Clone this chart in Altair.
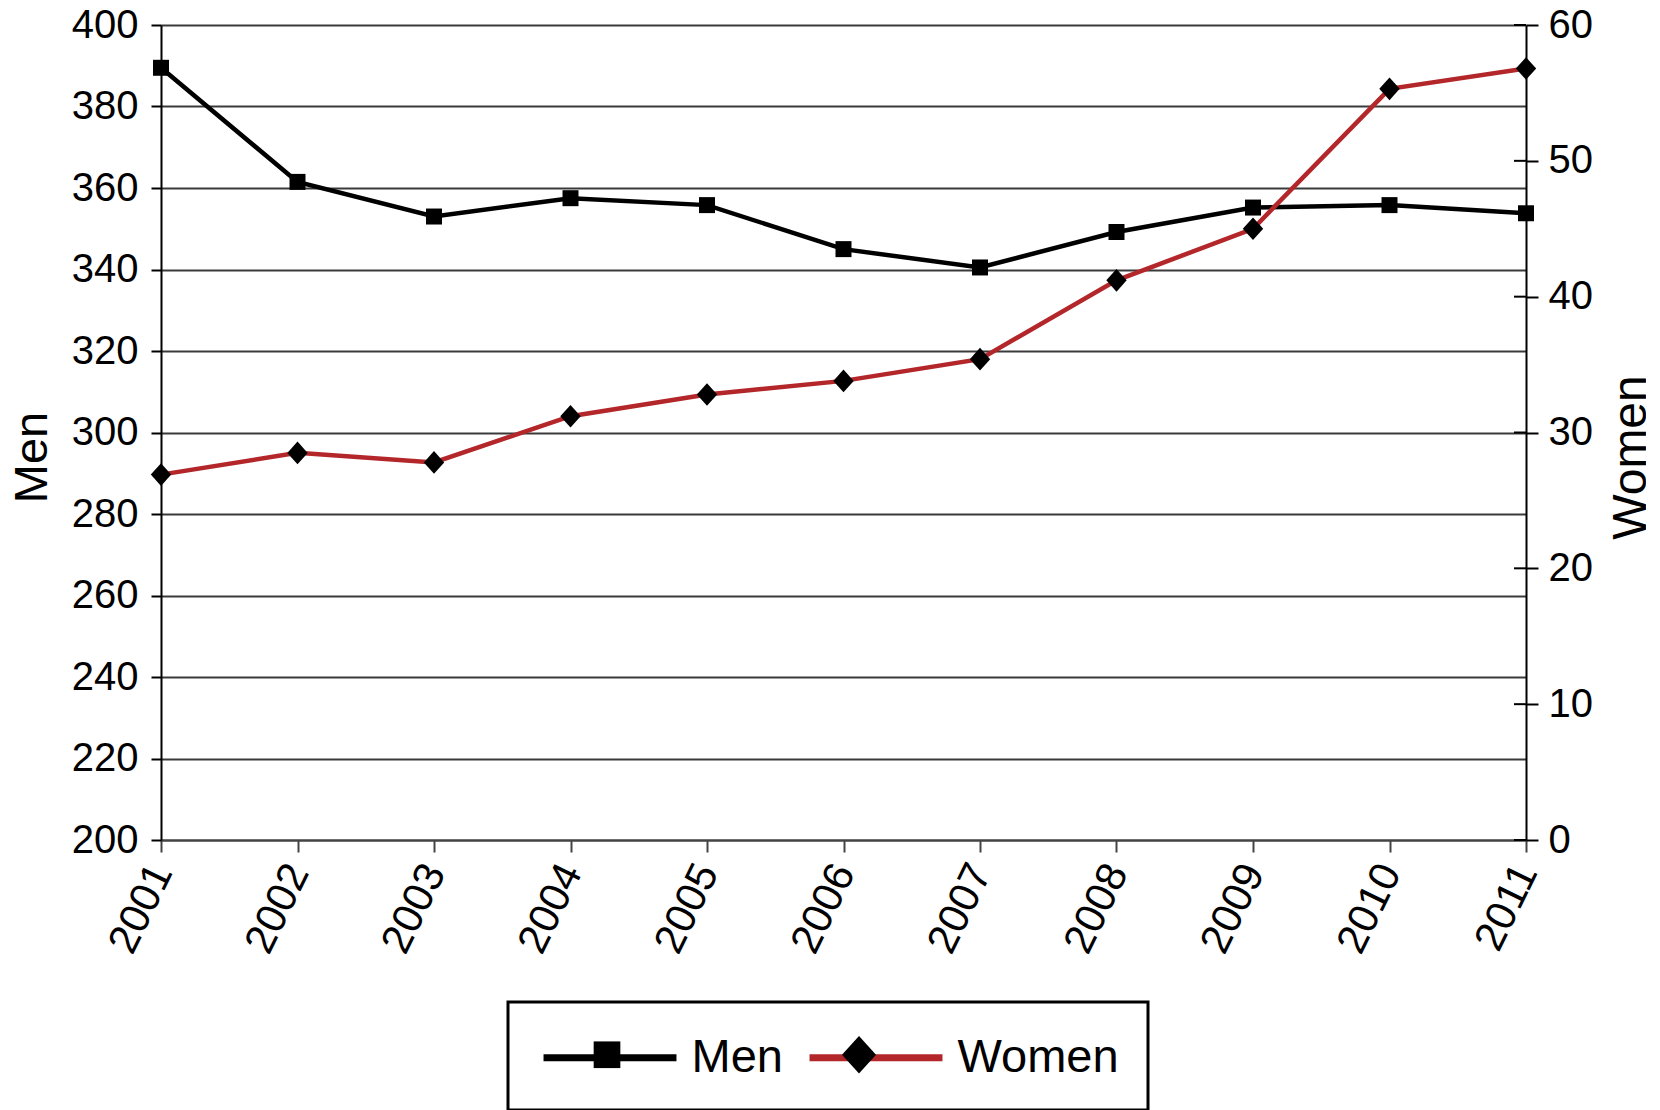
import altair as alt
import pandas as pd

years = [2001, 2002, 2003, 2004, 2005, 2006, 2007, 2008, 2009, 2010, 2011]
men = [389.5, 361.5, 353.0, 357.5, 355.8, 345.0, 340.5, 349.2, 355.2, 355.8, 353.8]
women = [26.9, 28.5, 27.8, 31.2, 32.8, 33.8, 35.4, 41.2, 45.0, 55.3, 56.8]
series_names = ["Men", "Women"]
shape_keys = ["M", "W"]
men_ticks = [200, 220, 240, 260, 280, 300, 320, 340, 360, 380, 400]
women_ticks = [0, 10, 20, 30, 40, 50, 60]

W, H = 1365, 815
FONT = "Liberation Sans"

men_df = pd.DataFrame({"year": years, "value": men, "series": "Men", "skey": "M"})
women_df = pd.DataFrame({"year": years, "value": women, "series": "Women", "skey": "W"})
wt_df = pd.DataFrame({"t": women_ticks})

x_enc = alt.X(
    "year:Q",
    scale=alt.Scale(domain=[2001, 2011], nice=False, zero=False),
    axis=alt.Axis(
        values=years, format="d", labelAngle=296, labelAlign="right", labelBaseline="middle",
        labelFontSize=42, labelFont=FONT, labelColor="black", labelPadding=14,
        labelFlush=False, labelOverlap=False,
        tickSize=12, tickWidth=2, tickColor="#444", domainColor="#444", domainWidth=2,
        grid=False, title=None,
    ),
)

men_scale = alt.Scale(domain=[200, 400], nice=False, zero=False)
women_scale = alt.Scale(domain=[0, 60], nice=False, zero=False)

men_axis = alt.Axis(
    title="Men", titleFontSize=47, titleFont=FONT, titleFontWeight="normal", titleColor="black",
    titleX=-129, titleY=432, titleAngle=270, titleBaseline="middle", titleAlign="center",
    values=men_ticks, labelFontSize=40, labelFont=FONT, labelColor="black", labelPadding=13,
    labelOverlap=False, labelFlush=False,
    tickSize=10, tickColor="black", tickWidth=2, domainColor="black", domainWidth=2,
    grid=True, gridColor="#3a3a3a", gridWidth=2,
)
women_axis = alt.Axis(
    orient="right",
    title="Women", titleFontSize=48, titleFont=FONT, titleFontWeight="normal", titleColor="black",
    titleX=105, titleY=432, titleAngle=270, titleBaseline="middle", titleAlign="center",
    values=women_ticks, labelFontSize=40, labelFont=FONT, labelColor="black", labelPadding=10,
    labelOverlap=False, labelFlush=False,
    tickSize=12, tickColor="black", tickWidth=2, domainColor="black", domainWidth=2,
    grid=False,
)

color_scale = alt.Scale(domain=series_names, range=["black", "#b3262a"])
shape_scale = alt.Scale(
    domain=shape_keys,
    range=["M-0.58,-0.58H0.58V0.58H-0.58Z", "M0,-0.82L0.74,0L0,0.82L-0.74,0Z"],
)

LEG_SIZE = 2116          # symbol box 46 px
SYM_OFF = 46.5
LAB_OFF = 55
LEG_PAD = 29
COL_PAD = 12
LEG_X, LEG_Y = 347, 977
legend_a = alt.Legend(
    orient="none", legendX=LEG_X, legendY=LEG_Y, direction="horizontal", title=None,
    symbolType="M-2.89,0H2.89", symbolSize=LEG_SIZE, symbolStrokeWidth=7, symbolOffset=SYM_OFF,
    labelFontSize=47, labelFont=FONT, labelColor="black", labelOffset=LAB_OFF, labelLimit=500,
    columnPadding=COL_PAD, padding=LEG_PAD, strokeColor="black", fillColor="white", zindex=1,
)
legend_b = alt.Legend(
    orient="none", legendX=LEG_X, legendY=LEG_Y, direction="horizontal", title=None,
    symbolSize=LEG_SIZE, symbolOffset=SYM_OFF,
    symbolFillColor="black", symbolStrokeColor="black", symbolStrokeWidth=0,
    labelExpr="datum.label == 'M' ? 'Men' : 'Women'",
    labelFontSize=47, labelFont=FONT, labelColor="black", labelOffset=LAB_OFF, labelLimit=500,
    labelOpacity=0,
    columnPadding=COL_PAD, padding=LEG_PAD, zindex=2,
)

MARK_SIZE = 760
men_line = alt.Chart(men_df).mark_line(strokeWidth=4.5).encode(
    x=x_enc,
    y=alt.Y("value:Q", scale=men_scale, axis=men_axis),
    color=alt.Color("series:N", scale=color_scale, legend=legend_a),
)
men_pts = alt.Chart(men_df).mark_point(filled=True, size=MARK_SIZE, color="black", opacity=1, strokeWidth=0).encode(
    x=x_enc,
    y=alt.Y("value:Q", scale=men_scale, axis=men_axis),
    shape=alt.Shape("skey:N", scale=shape_scale, legend=legend_b),
)
women_line = alt.Chart(women_df).mark_line(strokeWidth=4.5).encode(
    x=x_enc,
    y=alt.Y("value:Q", scale=women_scale, axis=women_axis),
    color=alt.Color("series:N", scale=color_scale, legend=legend_a),
)
women_pts = alt.Chart(women_df).mark_point(filled=True, size=MARK_SIZE, color="black", opacity=1, strokeWidth=0).encode(
    x=x_enc,
    y=alt.Y("value:Q", scale=women_scale, axis=women_axis),
    shape=alt.Shape("skey:N", scale=shape_scale, legend=legend_b),
)
women_tick_rules = alt.Chart(wt_df).mark_rule(color="black", strokeWidth=2).encode(
    y=alt.Y("t:Q", scale=women_scale, axis=women_axis),
    x=alt.value(W - 12),
    x2=alt.value(W),
)

chart = (
    alt.layer(
        alt.layer(men_line, men_pts),
        alt.layer(women_tick_rules, women_line, women_pts),
    )
    .resolve_scale(y="independent")
    .properties(
        width=W, height=H,
        autosize=alt.AutoSizeParams(type="none"),
        padding={"left": 153, "top": 17, "right": 120, "bottom": 270},
        background="white",
    )
    .configure_view(stroke=None)
    .configure_legend(strokeWidth=3)
)

chart.save("out.html", embed_options={"renderer": "svg", "actions": False})
